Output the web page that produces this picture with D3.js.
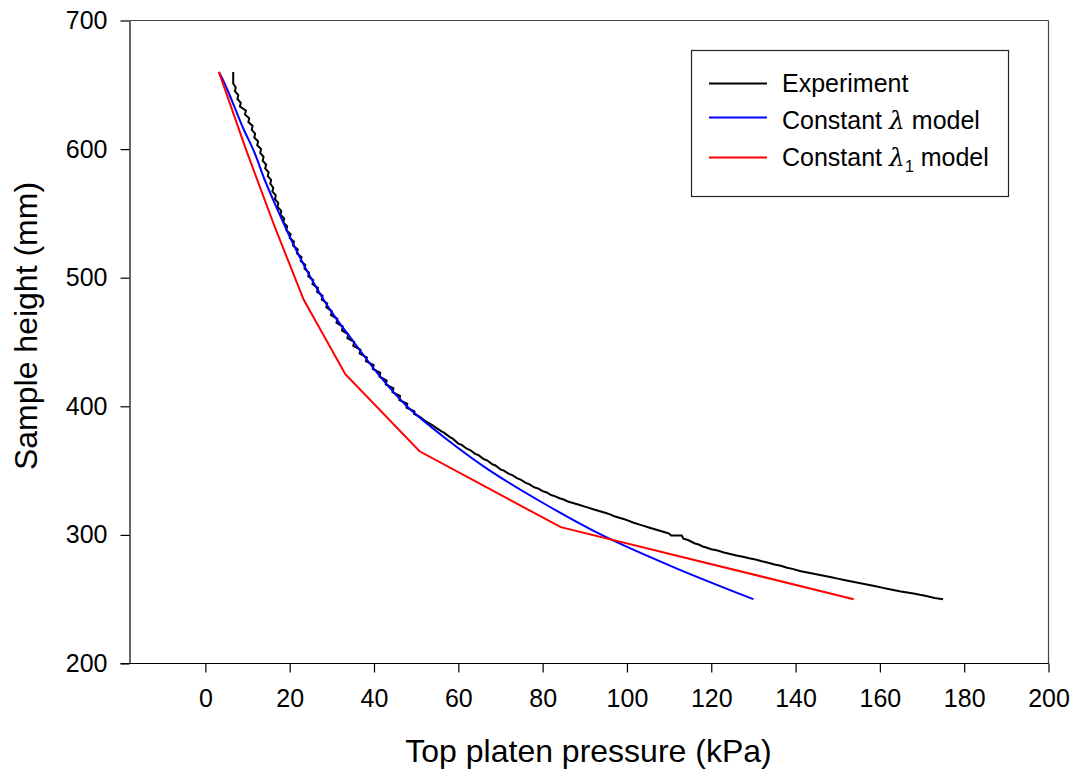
<!DOCTYPE html>
<html>
<head>
<meta charset="utf-8">
<script src="https://cdn.jsdelivr.net/npm/d3@7"></script>
<style>
  html, body { margin: 0; padding: 0; background: #fff; }
  svg { display: block; font-family: "Liberation Sans", Arial, sans-serif; }
</style>
</head>
<body>
<svg id="chart" width="1075" height="773"></svg>
<script>
// ---------- data ----------
const xTicks = [0, 20, 40, 60, 80, 100, 120, 140, 160, 180, 200];
const yTicks = [200, 300, 400, 500, 600, 700];

// Experiment: [pressure kPa, height mm] (jagged record)
const experiment = [
  [6.6,660],[6.6,651],[7.2,648],[7.0,645],[7.8,642],[7.6,639],[8.4,636],[8.2,633],
  [9.6,630],[9.4,627],[10.4,624],[10.2,621],[11.2,618],[11.0,615],[11.8,612],[11.6,609],
  [12.5,606],[12.3,603],[13.2,600],[13.0,597],[13.8,594],[13.6,591],[14.4,588],[14.2,585],
  [15.0,582],[14.8,579],[15.6,576],[15.4,573],[16.1,570],[15.9,567],[16.7,564],[16.5,561],
  [17.3,558],[17.1,555],[18.0,552],[17.8,549],[18.7,546],[18.5,543],[19.4,540],[19.2,537],
  [20.2,534],[20.0,531],[21.0,528],[20.8,525],[21.9,522],[21.7,519],[22.8,516],[22.6,513],
  [23.7,510],[23.5,507],[24.6,504],[24.4,501],[25.6,498],[25.4,495],[26.7,492],[26.5,489],
  [27.8,486],[27.6,483],[28.9,480],[28.7,477],[30.0,474],[29.8,471],[31.3,468],[31.1,465],
  [32.6,462],[32.4,459],[33.9,456],[33.7,453],[35.3,450],[35.1,447],[36.8,444],[36.6,441],
  [38.3,438],[38.1,435],[39.9,432],[39.7,429],[41.5,426],[41.3,423],[43.0,420],[42.8,417],
  [44.6,414],[44.4,411],[46.2,408],[46.0,405],[47.9,402],[47.7,399],[49.6,396],[49.5,394],
  [50.8,392],[52.0,389],[52.4,388],[54.0,385],[54.4,384],[56.0,380.5],[56.6,379.5],[58.0,376],
  [58.6,375],[60.0,371],[60.8,370],[62.0,367],[62.8,366],[64.0,363],[64.8,362],[66.0,359],
  [66.8,358],[68.0,355],[68.8,354],[70.0,351],[70.8,350],[72.0,347.5],[72.8,346.5],[74.0,344],
  [74.8,343],[76.0,340.5],[76.8,339.5],[78.0,337],[79.0,336],[80.0,334],[81.0,333],[82.0,331],
  [83.0,330],[84.0,328.5],[85.0,327.5],[86.0,326],[87.0,325],[88.0,324],[89.0,323],[90.0,322],
  [91.0,321],[92.0,320],[93.0,319],[94.0,318],[95.0,317],[96.0,316],[97.0,314.5],[98.0,313.5],
  [99.0,312.5],[100.0,311.5],[101.0,310.2],[102.0,309],[103.0,308],[104.0,307],[105.0,306],
  [106.0,305],[107.0,304],[108.0,303],[109.0,302],[110.0,301],[110.5,299.5],[113.0,299.5],
  [113.4,297],[114.5,296],[116.0,293.5],[117.0,292.5],[118.0,291],[119.0,290],[120.0,288.8],
  [121.5,287.8],[123.0,286.3],[124.5,285.2],[126.0,284],[127.5,283],[129.0,281.8],[130.5,280.8],
  [132.0,279.5],[133.5,278.4],[135.0,277],[136.5,276],[138.0,274.5],[139.5,273.4],[141.0,272],
  [142.5,271],[144.0,270],[145.5,269],[147.0,268],[148.5,267],[150.0,266],[151.5,265],
  [153.0,264],[154.5,263],[156.0,262],[157.5,261],[159.0,260],[160.5,259],[162.0,258],
  [163.5,257],[165.0,256],[166.5,255.2],[168.0,254.5],[169.5,253.4],[171.0,252.5],[173.0,251],
  [175.0,250]
];

// Constant lambda model
const lambdaModel = [
  [3.2,660],[4.0,655],[5.5,644],[7.0,632],[9.0,616],[11.3,600],[14.2,575],[17.5,550],
  [21.0,525],[25.0,500],[30.0,473],[35.2,450],[41.0,425],[47.8,400],[57.0,375],[67.5,350],
  [80.0,325],[94.0,300],[111.0,275],[130.0,250]
];

// Constant lambda_1 model
const lambda1Model = [
  [3.2,660],[9.6,600],[16.4,540],[23.3,483],[33.2,425],[50.8,365],[84.3,306],[153.8,250]
];

// ---------- layout ----------
const svg = d3.select("#chart");
const margin = {left: 129, top: 20.5, right: 27, bottom: 109.5};
const W = 1075 - margin.left - margin.right;
const H = 773 - margin.top - margin.bottom;

const x = d3.scaleLinear().domain([-18, 200]).range([0, W]);
const y = d3.scaleLinear().domain([200, 700]).range([H, 0]);

const g = svg.append("g").attr("transform", `translate(${margin.left + 0.5},${margin.top})`);

// frame top/right
g.append("line").attr("x1", 0).attr("x2", W).attr("y1", 0).attr("y2", 0)
  .attr("stroke", "#444").attr("stroke-width", 1.2);
g.append("line").attr("x1", W).attr("x2", W).attr("y1", 0).attr("y2", H)
  .attr("stroke", "#444").attr("stroke-width", 1.2);

// axes
const xAxis = g.append("g").attr("transform", `translate(0,${H})`)
  .call(d3.axisBottom(x).tickValues(xTicks).tickSize(9).tickPadding(17).tickSizeOuter(0));
const yAxis = g.append("g")
  .call(d3.axisLeft(y).tickValues(yTicks).tickSize(9).tickPadding(13).tickSizeOuter(0));
[xAxis, yAxis].forEach(a => {
  a.select(".domain").attr("stroke", "#000").attr("stroke-width", 1.2);
  a.selectAll(".tick line").attr("stroke", "#000").attr("stroke-width", 1.2);
  a.selectAll(".tick text").attr("fill", "#000")
    .style("font-family", "'Liberation Sans', Arial, sans-serif").style("font-size", "25px");
});
xAxis.select(".domain").attr("d", `M${-9},0H${W}`);

// lines
const line = d3.line().x(d => x(d[0])).y(d => y(d[1]));
const smoothLine = d3.line().x(d => x(d[0])).y(d => y(d[1])).curve(d3.curveMonotoneY);

g.append("path").datum(experiment).attr("d", line)
  .attr("fill", "none").attr("stroke", "#000").attr("stroke-width", 2)
  .attr("stroke-linejoin", "miter");
g.append("path").datum(lambdaModel).attr("d", smoothLine)
  .attr("fill", "none").attr("stroke", "#0000ff").attr("stroke-width", 2);
g.append("path").datum(lambda1Model).attr("d", line)
  .attr("fill", "none").attr("stroke", "#ff0000").attr("stroke-width", 2);

// axis titles
svg.append("text").attr("x", margin.left + W / 2).attr("y", 762)
  .attr("text-anchor", "middle").style("font-size", "32px").attr("fill", "#000")
  .text("Top platen pressure (kPa)");
svg.append("text").attr("transform", `translate(37,326) rotate(-90)`)
  .attr("text-anchor", "middle").style("font-size", "32px").attr("fill", "#000")
  .text("Sample height (mm)");

// legend
const legend = svg.append("g");
legend.append("rect").attr("x", 691.5).attr("y", 50.5).attr("width", 317).attr("height", 146)
  .attr("fill", "#fff").attr("stroke", "#222").attr("stroke-width", 1.2);
const legItems = [
  {color: "#000", ly: 83.5, ty: 92},
  {color: "#0000ff", ly: 117.5, ty: 129},
  {color: "#ff0000", ly: 157.5, ty: 166}
];
legItems.forEach(it => {
  legend.append("line").attr("x1", 709).attr("x2", 767).attr("y1", it.ly).attr("y2", it.ly)
    .attr("stroke", it.color).attr("stroke-width", 2);
});
legend.append("text").attr("x", 782).attr("y", legItems[0].ty)
  .style("font-size", "25px").text("Experiment");
const t2 = legend.append("text").attr("x", 782).attr("y", legItems[1].ty).style("font-size", "25px");
t2.append("tspan").text("Constant ");
t2.append("tspan").style("font-style", "italic").style("font-family", "'DejaVu Serif', serif").text("λ");
t2.append("tspan").text(" model");
const t3 = legend.append("text").attr("x", 782).attr("y", legItems[2].ty).style("font-size", "25px");
t3.append("tspan").text("Constant ");
t3.append("tspan").style("font-style", "italic").style("font-family", "'DejaVu Serif', serif").text("λ");
t3.append("tspan").style("font-size", "16px").attr("dy", 6).text("1");
t3.append("tspan").attr("dy", -6).text(" model");
</script>
</body>
</html>
